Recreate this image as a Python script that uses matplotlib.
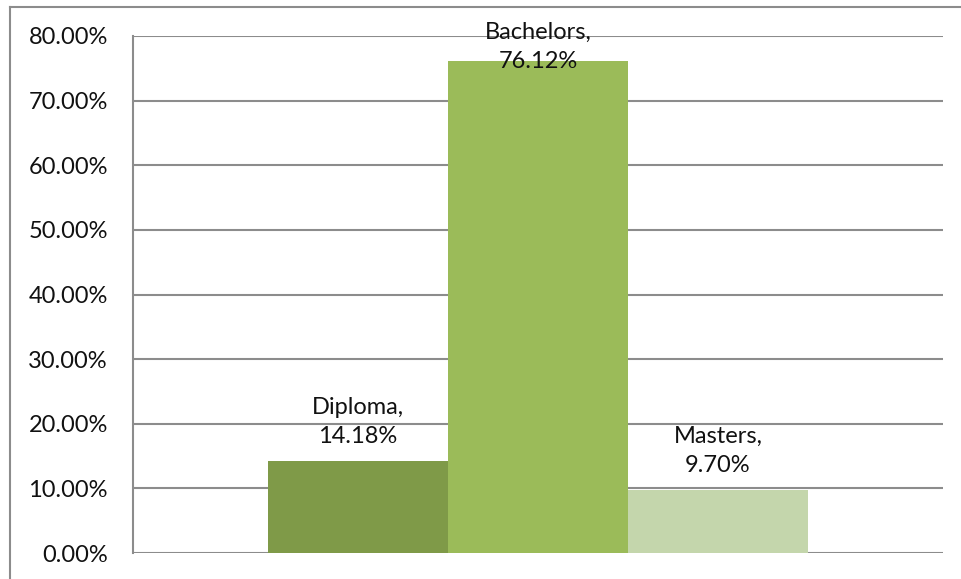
import matplotlib
matplotlib.use("Agg")
import matplotlib.pyplot as plt
from matplotlib.lines import Line2D
from matplotlib.ticker import FuncFormatter

categories = ["Diploma", "Bachelors", "Masters"]
shares = [0.1418, 0.7612, 0.0970]
colors = ["#7F9A48", "#9BBB59", "#C4D6AC"]
y_ticks = [0.0, 0.1, 0.2, 0.3, 0.4, 0.5, 0.6, 0.7, 0.8]

plt.rcParams["font.family"] = ["Lato", "DejaVu Sans"]

fig = plt.figure(figsize=(9.61, 5.79), dpi=100)
ax = fig.add_axes([133 / 961, 26 / 579, 810 / 961, 517 / 579])

x = list(range(len(categories)))
ax.bar(x, shares, width=1.0, color=colors, zorder=2)

ax.set_xlim(-1.25, 3.25)
ax.set_ylim(0, 0.8)
ax.set_yticks(y_ticks)
ax.yaxis.set_major_formatter(FuncFormatter(lambda v, _: f"{v * 100:.2f}%"))
ax.tick_params(axis="y", length=0, pad=18, labelsize=17, labelcolor="#111111")
ax.set_xticks([])
ax.grid(axis="y", color="#8c8c8c", linewidth=1.5, zorder=1)
for side in ("top", "right", "bottom"):
    ax.spines[side].set_visible(False)
ax.spines["left"].set_color("#8c8c8c")
ax.spines["left"].set_linewidth(1.5)

# label offsets in points (Excel pushed the Bachelors label down into the plot)
offsets = [10, -8, 10]
for xi, name, v, dy in zip(x, categories, shares, offsets):
    ax.annotate(f"{name},\n{v * 100:.2f}%", (xi, v), xytext=(0, dy),
                textcoords="offset points", ha="center", va="bottom",
                fontsize=17, color="#111111", linespacing=1.5, zorder=3,
                annotation_clip=False)

# outer chart border (only top and left visible in the crop)
fig.add_artist(Line2D([10 / 961, 1], [1 - 7 / 579] * 2, color="#8c8c8c", lw=1.5,
                      transform=fig.transFigure))
fig.add_artist(Line2D([10 / 961] * 2, [0, 1 - 7 / 579], color="#8c8c8c", lw=1.5,
                      transform=fig.transFigure))

fig.savefig("out.png", dpi=100)
plt.close(fig)
